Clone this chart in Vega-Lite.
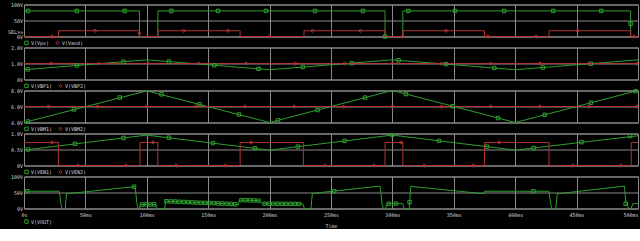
{
"$schema": "https://vega.github.io/schema/vega-lite/v6.json",
"background": "#000000",
"padding": {"left": 0, "top": 1.5, "right": 3, "bottom": 0},
"bounds": "flush",
"spacing": 11,
"config": {
  "view": {"stroke": "#8c8c8c", "strokeWidth": 1},
  "axis": {"labelFont": "DejaVu Sans Mono", "labelFontSize": 5, "labelColor": "#d4d4d4", "domain": false, "ticks": false, "gridWidth": 1, "labelOverlap": false, "titleFont": "DejaVu Sans Mono", "titleFontSize": 5, "titleColor": "#d4d4d4", "titleFontWeight": "normal"},
  "axisY": {"minExtent": 23, "maxExtent": 23, "labelPadding": 1.5},
  "legend": {"orient": "none", "direction": "horizontal", "labelFont": "DejaVu Sans Mono", "labelFontSize": 5, "labelColor": "#d4d4d4", "symbolSize": 12, "symbolStrokeWidth": 1, "labelOffset": 2, "columnPadding": 3, "padding": 0, "rowPadding": 0}
},
"datasets": {
  "p1": [
    {"t":0,"v":80,"s":"V(Vpv)"},{"t":94,"v":80,"s":"V(Vpv)"},{"t":94,"v":0,"s":"V(Vpv)"},{"t":109,"v":0,"s":"V(Vpv)"},{"t":109,"v":80,"s":"V(Vpv)"},{"t":294,"v":80,"s":"V(Vpv)"},{"t":294,"v":0,"s":"V(Vpv)"},{"t":308.5,"v":0,"s":"V(Vpv)"},{"t":308.5,"v":80,"s":"V(Vpv)"},{"t":494,"v":80,"s":"V(Vpv)"},{"t":494,"v":0,"s":"V(Vpv)"},{"t":500,"v":0,"s":"V(Vpv)"},
    {"t":0,"v":0,"s":"V(Vand)"},{"t":28,"v":0,"s":"V(Vand)"},{"t":28,"v":18,"s":"V(Vand)"},{"t":94,"v":18,"s":"V(Vand)"},{"t":94,"v":0,"s":"V(Vand)"},{"t":109,"v":0,"s":"V(Vand)"},{"t":109,"v":18,"s":"V(Vand)"},{"t":176,"v":18,"s":"V(Vand)"},{"t":176,"v":0,"s":"V(Vand)"},{"t":228,"v":0,"s":"V(Vand)"},{"t":228,"v":18,"s":"V(Vand)"},{"t":294,"v":18,"s":"V(Vand)"},{"t":294,"v":0,"s":"V(Vand)"},{"t":308.5,"v":0,"s":"V(Vand)"},{"t":308.5,"v":18,"s":"V(Vand)"},{"t":375,"v":18,"s":"V(Vand)"},{"t":375,"v":0,"s":"V(Vand)"},{"t":427.5,"v":0,"s":"V(Vand)"},{"t":427.5,"v":18,"s":"V(Vand)"},{"t":494,"v":18,"s":"V(Vand)"},{"t":494,"v":0,"s":"V(Vand)"},{"t":500,"v":0,"s":"V(Vand)"}
  ],
  "m1": [
    {"t":3.3,"v":80,"s":"V(Vpv)"},{"t":43,"v":80,"s":"V(Vpv)"},{"t":82,"v":80,"s":"V(Vpv)"},{"t":120,"v":80,"s":"V(Vpv)"},{"t":158,"v":80,"s":"V(Vpv)"},{"t":197,"v":80,"s":"V(Vpv)"},{"t":237,"v":80,"s":"V(Vpv)"},{"t":276,"v":80,"s":"V(Vpv)"},{"t":294,"v":0,"s":"V(Vpv)"},{"t":313,"v":80,"s":"V(Vpv)"},{"t":351,"v":80,"s":"V(Vpv)"},{"t":391,"v":80,"s":"V(Vpv)"},{"t":431,"v":80,"s":"V(Vpv)"},{"t":470,"v":80,"s":"V(Vpv)"},{"t":494,"v":40,"s":"V(Vpv)"},
    {"t":22.8,"v":0,"s":"V(Vand)"},{"t":57.8,"v":18,"s":"V(Vand)"},{"t":94,"v":10,"s":"V(Vand)"},{"t":130,"v":18,"s":"V(Vand)"},{"t":166,"v":18,"s":"V(Vand)"},{"t":200,"v":0,"s":"V(Vand)"},{"t":235,"v":18,"s":"V(Vand)"},{"t":274,"v":18,"s":"V(Vand)"},{"t":308.5,"v":0,"s":"V(Vand)"},{"t":343.6,"v":18,"s":"V(Vand)"},{"t":377.9,"v":0,"s":"V(Vand)"},{"t":417,"v":0,"s":"V(Vand)"},{"t":451,"v":18,"s":"V(Vand)"},{"t":496.7,"v":0,"s":"V(Vand)"}
  ],
  "p2": [
    {"t":0,"v":0.61,"s":"V(VBP1)"},{"t":100,"v":1.23,"s":"V(VBP1)"},{"t":200,"v":0.61,"s":"V(VBP1)"},{"t":300,"v":1.23,"s":"V(VBP1)"},{"t":400,"v":0.61,"s":"V(VBP1)"},{"t":500,"v":1.23,"s":"V(VBP1)"},
    {"t":0,"v":1.0,"s":"V(VBP2)"},{"t":500,"v":1.0,"s":"V(VBP2)"}
  ],
  "m2": [
    {"t":3,"v":0.63,"s":"V(VBP1)"},{"t":43,"v":0.88,"s":"V(VBP1)"},{"t":81,"v":1.11,"s":"V(VBP1)"},{"t":118,"v":1.12,"s":"V(VBP1)"},{"t":155,"v":0.89,"s":"V(VBP1)"},{"t":191,"v":0.67,"s":"V(VBP1)"},{"t":227,"v":0.78,"s":"V(VBP1)"},{"t":267,"v":1.02,"s":"V(VBP1)"},{"t":305,"v":1.2,"s":"V(VBP1)"},{"t":343.6,"v":0.96,"s":"V(VBP1)"},{"t":383,"v":0.72,"s":"V(VBP1)"},{"t":422.6,"v":0.75,"s":"V(VBP1)"},{"t":461.7,"v":0.99,"s":"V(VBP1)"},
    {"t":22,"v":1,"s":"V(VBP2)"},{"t":61,"v":1,"s":"V(VBP2)"},{"t":101,"v":1,"s":"V(VBP2)"},{"t":142,"v":1,"s":"V(VBP2)"},{"t":181,"v":1,"s":"V(VBP2)"},{"t":221,"v":1,"s":"V(VBP2)"},{"t":261,"v":1,"s":"V(VBP2)"},{"t":300,"v":1,"s":"V(VBP2)"},{"t":340,"v":1,"s":"V(VBP2)"},{"t":380,"v":1,"s":"V(VBP2)"},{"t":420,"v":1,"s":"V(VBP2)"},{"t":460,"v":1,"s":"V(VBP2)"},{"t":499,"v":1,"s":"V(VBP2)"}
  ],
  "p3": [
    {"t":0,"v":4.0,"s":"V(VBM1)"},{"t":100,"v":7.95,"s":"V(VBM1)"},{"t":200,"v":4.0,"s":"V(VBM1)"},{"t":300,"v":8.0,"s":"V(VBM1)"},{"t":400,"v":4.0,"s":"V(VBM1)"},{"t":500,"v":8.0,"s":"V(VBM1)"},
    {"t":0,"v":6.0,"s":"V(VBM2)"},{"t":500,"v":6.0,"s":"V(VBM2)"}
  ],
  "m3": [
    {"t":3.3,"v":4.13,"s":"V(VBM1)"},{"t":40.7,"v":5.63,"s":"V(VBM1)"},{"t":78,"v":7.12,"s":"V(VBM1)"},{"t":112,"v":7.52,"s":"V(VBM1)"},{"t":143,"v":6.28,"s":"V(VBM1)"},{"t":175,"v":5.0,"s":"V(VBM1)"},{"t":206.8,"v":4.27,"s":"V(VBM1)"},{"t":239,"v":5.56,"s":"V(VBM1)"},{"t":277.7,"v":7.11,"s":"V(VBM1)"},{"t":311,"v":7.56,"s":"V(VBM1)"},{"t":349,"v":6.04,"s":"V(VBM1)"},{"t":386,"v":4.56,"s":"V(VBM1)"},{"t":424,"v":4.96,"s":"V(VBM1)"},{"t":461.7,"v":6.47,"s":"V(VBM1)"},{"t":498,"v":7.92,"s":"V(VBM1)"},
    {"t":20,"v":6,"s":"V(VBM2)"},{"t":60,"v":6,"s":"V(VBM2)"},{"t":100,"v":6,"s":"V(VBM2)"},{"t":140,"v":6,"s":"V(VBM2)"},{"t":180,"v":6,"s":"V(VBM2)"},{"t":220,"v":6,"s":"V(VBM2)"},{"t":260,"v":6,"s":"V(VBM2)"},{"t":300,"v":6,"s":"V(VBM2)"},{"t":340,"v":6,"s":"V(VBM2)"},{"t":380,"v":6,"s":"V(VBM2)"},{"t":420,"v":6,"s":"V(VBM2)"},{"t":460,"v":6,"s":"V(VBM2)"},{"t":499,"v":6,"s":"V(VBM2)"}
  ],
  "p4": [
    {"t":0,"v":0.48,"s":"V(VEN1)"},{"t":100,"v":0.95,"s":"V(VEN1)"},{"t":200,"v":0.48,"s":"V(VEN1)"},{"t":300,"v":0.95,"s":"V(VEN1)"},{"t":400,"v":0.48,"s":"V(VEN1)"},{"t":500,"v":0.93,"s":"V(VEN1)"},
    {"t":0,"v":0.72,"s":"V(VEN2)"},{"t":28,"v":0.72,"s":"V(VEN2)"},{"t":28,"v":0,"s":"V(VEN2)"},{"t":94.5,"v":0,"s":"V(VEN2)"},{"t":94.5,"v":0.72,"s":"V(VEN2)"},{"t":109,"v":0.72,"s":"V(VEN2)"},{"t":109,"v":0,"s":"V(VEN2)"},{"t":176,"v":0,"s":"V(VEN2)"},{"t":176,"v":0.72,"s":"V(VEN2)"},{"t":227.5,"v":0.72,"s":"V(VEN2)"},{"t":227.5,"v":0,"s":"V(VEN2)"},{"t":294,"v":0,"s":"V(VEN2)"},{"t":294,"v":0.72,"s":"V(VEN2)"},{"t":308.5,"v":0.72,"s":"V(VEN2)"},{"t":308.5,"v":0,"s":"V(VEN2)"},{"t":375,"v":0,"s":"V(VEN2)"},{"t":375,"v":0.72,"s":"V(VEN2)"},{"t":427.5,"v":0.72,"s":"V(VEN2)"},{"t":427.5,"v":0,"s":"V(VEN2)"},{"t":494.5,"v":0,"s":"V(VEN2)"},{"t":494.5,"v":0.72,"s":"V(VEN2)"},{"t":500,"v":0.72,"s":"V(VEN2)"}
  ],
  "m4": [
    {"t":3.3,"v":0.5,"s":"V(VEN1)"},{"t":41.5,"v":0.68,"s":"V(VEN1)"},{"t":81,"v":0.86,"s":"V(VEN1)"},{"t":118,"v":0.87,"s":"V(VEN1)"},{"t":153.9,"v":0.7,"s":"V(VEN1)"},{"t":188,"v":0.54,"s":"V(VEN1)"},{"t":223,"v":0.59,"s":"V(VEN1)"},{"t":261,"v":0.77,"s":"V(VEN1)"},{"t":299.7,"v":0.95,"s":"V(VEN1)"},{"t":338,"v":0.77,"s":"V(VEN1)"},{"t":377,"v":0.59,"s":"V(VEN1)"},{"t":415,"v":0.55,"s":"V(VEN1)"},{"t":454,"v":0.73,"s":"V(VEN1)"},{"t":493.5,"v":0.92,"s":"V(VEN1)"},
    {"t":22.6,"v":0.72,"s":"V(VEN2)"},{"t":44,"v":0,"s":"V(VEN2)"},{"t":83,"v":0,"s":"V(VEN2)"},{"t":105,"v":0.72,"s":"V(VEN2)"},{"t":124,"v":0,"s":"V(VEN2)"},{"t":164,"v":0,"s":"V(VEN2)"},{"t":185,"v":0.72,"s":"V(VEN2)"},{"t":245,"v":0,"s":"V(VEN2)"},{"t":285,"v":0,"s":"V(VEN2)"},{"t":307,"v":0.72,"s":"V(VEN2)"},{"t":326,"v":0,"s":"V(VEN2)"},{"t":366,"v":0,"s":"V(VEN2)"},{"t":387,"v":0.72,"s":"V(VEN2)"},{"t":447,"v":0,"s":"V(VEN2)"},{"t":486,"v":0,"s":"V(VEN2)"}
  ],
  "p5": [
    {"t":0,"v":54,"s":"V(VOUT)"},{"t":28.5,"v":54,"s":"V(VOUT)"},{"t":29.3,"v":38,"s":"V(VOUT)"},{"t":30,"v":15,"s":"V(VOUT)"},{"t":30.8,"v":3,"s":"V(VOUT)"},{"t":31.5,"v":0,"s":"V(VOUT)"},{"t":33.6,"v":0,"s":"V(VOUT)"},{"t":34.6,"v":46,"s":"V(VOUT)"},{"t":90.4,"v":68.5,"s":"V(VOUT)"},{"t":91.2,"v":45,"s":"V(VOUT)"},{"t":92,"v":15,"s":"V(VOUT)"},{"t":92.8,"v":2,"s":"V(VOUT)"},{"t":93.5,"v":0,"s":"V(VOUT)"},{"t":94,"v":0,"s":"V(VOUT)"},{"t":95,"v":12.5,"s":"V(VOUT)"},{"t":98,"v":13,"s":"V(VOUT)"},{"t":101,"v":12.5,"s":"V(VOUT)"},{"t":104,"v":13,"s":"V(VOUT)"},{"t":107,"v":12.5,"s":"V(VOUT)"},{"t":107.6,"v":5,"s":"V(VOUT)"},{"t":108.3,"v":0,"s":"V(VOUT)"},{"t":114.6,"v":0,"s":"V(VOUT)"},{"t":115.2,"v":23,"s":"V(VOUT)"},{"t":119.5,"v":22,"s":"V(VOUT)"},{"t":123.8,"v":21.5,"s":"V(VOUT)"},{"t":130,"v":20.5,"s":"V(VOUT)"},{"t":137.4,"v":19,"s":"V(VOUT)"},{"t":144,"v":18,"s":"V(VOUT)"},{"t":150.9,"v":17,"s":"V(VOUT)"},{"t":158,"v":16,"s":"V(VOUT)"},{"t":164.5,"v":15,"s":"V(VOUT)"},{"t":170,"v":13.5,"s":"V(VOUT)"},{"t":174.5,"v":12,"s":"V(VOUT)"},{"t":175.3,"v":26,"s":"V(VOUT)"},{"t":180,"v":26,"s":"V(VOUT)"},{"t":185,"v":25.5,"s":"V(VOUT)"},{"t":191.6,"v":24.5,"s":"V(VOUT)"},{"t":194.3,"v":15,"s":"V(VOUT)"},{"t":200,"v":15,"s":"V(VOUT)"},{"t":210,"v":14.5,"s":"V(VOUT)"},{"t":220,"v":14.5,"s":"V(VOUT)"},{"t":227,"v":14,"s":"V(VOUT)"},{"t":227.8,"v":5,"s":"V(VOUT)"},{"t":228.6,"v":0,"s":"V(VOUT)"},{"t":233.7,"v":0,"s":"V(VOUT)"},{"t":234.8,"v":47,"s":"V(VOUT)"},{"t":290,"v":70,"s":"V(VOUT)"},{"t":290.8,"v":45,"s":"V(VOUT)"},{"t":291.6,"v":15,"s":"V(VOUT)"},{"t":292.4,"v":2,"s":"V(VOUT)"},{"t":293.2,"v":0,"s":"V(VOUT)"},{"t":294.3,"v":0,"s":"V(VOUT)"},{"t":296,"v":15,"s":"V(VOUT)"},{"t":308.4,"v":15,"s":"V(VOUT)"},{"t":309.4,"v":2,"s":"V(VOUT)"},{"t":310,"v":0,"s":"V(VOUT)"},{"t":313.7,"v":0,"s":"V(VOUT)"},{"t":315,"v":69,"s":"V(VOUT)"},{"t":374.8,"v":46,"s":"V(VOUT)"},{"t":375.2,"v":54,"s":"V(VOUT)"},{"t":427.3,"v":54,"s":"V(VOUT)"},{"t":428.1,"v":38,"s":"V(VOUT)"},{"t":428.8,"v":15,"s":"V(VOUT)"},{"t":429.6,"v":3,"s":"V(VOUT)"},{"t":430.3,"v":0,"s":"V(VOUT)"},{"t":433,"v":0,"s":"V(VOUT)"},{"t":434.3,"v":46,"s":"V(VOUT)"},{"t":489,"v":70,"s":"V(VOUT)"},{"t":489.6,"v":40,"s":"V(VOUT)"},{"t":490.2,"v":15,"s":"V(VOUT)"},{"t":491,"v":10,"s":"V(VOUT)"},{"t":492.7,"v":0,"s":"V(VOUT)"},{"t":494.3,"v":0,"s":"V(VOUT)"},{"t":495.9,"v":15,"s":"V(VOUT)"},{"t":500,"v":15,"s":"V(VOUT)"}
  ],
  "m5": [
    {"t":2.6,"v":54,"s":"V(VOUT)"},{"t":89.6,"v":68.2,"s":"V(VOUT)"},{"t":96,"v":12.5,"s":"V(VOUT)"},{"t":99.5,"v":13,"s":"V(VOUT)"},{"t":103,"v":12.5,"s":"V(VOUT)"},{"t":106,"v":13,"s":"V(VOUT)"},{"t":116,"v":22.8,"s":"V(VOUT)"},{"t":119.5,"v":22,"s":"V(VOUT)"},{"t":123,"v":21.6,"s":"V(VOUT)"},{"t":126.5,"v":21.1,"s":"V(VOUT)"},{"t":130,"v":20.5,"s":"V(VOUT)"},{"t":133.5,"v":19.8,"s":"V(VOUT)"},{"t":137,"v":19.1,"s":"V(VOUT)"},{"t":140.5,"v":18.6,"s":"V(VOUT)"},{"t":144,"v":18,"s":"V(VOUT)"},{"t":147.5,"v":17.5,"s":"V(VOUT)"},{"t":151,"v":17,"s":"V(VOUT)"},{"t":154.5,"v":16.5,"s":"V(VOUT)"},{"t":158,"v":16,"s":"V(VOUT)"},{"t":161.5,"v":15.5,"s":"V(VOUT)"},{"t":165,"v":14.9,"s":"V(VOUT)"},{"t":168.5,"v":14,"s":"V(VOUT)"},{"t":172,"v":13,"s":"V(VOUT)"},{"t":177,"v":26,"s":"V(VOUT)"},{"t":180.5,"v":26,"s":"V(VOUT)"},{"t":184,"v":25.6,"s":"V(VOUT)"},{"t":187.5,"v":25.2,"s":"V(VOUT)"},{"t":191,"v":24.6,"s":"V(VOUT)"},{"t":196,"v":15,"s":"V(VOUT)"},{"t":199.5,"v":15,"s":"V(VOUT)"},{"t":203,"v":15,"s":"V(VOUT)"},{"t":206.5,"v":14.8,"s":"V(VOUT)"},{"t":210,"v":14.5,"s":"V(VOUT)"},{"t":213.5,"v":14.5,"s":"V(VOUT)"},{"t":217,"v":14.5,"s":"V(VOUT)"},{"t":220.5,"v":14.4,"s":"V(VOUT)"},{"t":224,"v":14.2,"s":"V(VOUT)"},{"t":252.6,"v":54.2,"s":"V(VOUT)"},{"t":297,"v":15,"s":"V(VOUT)"},{"t":303,"v":15,"s":"V(VOUT)"},{"t":314,"v":20,"s":"V(VOUT)"},{"t":414.8,"v":54,"s":"V(VOUT)"},{"t":490,"v":15,"s":"V(VOUT)"}
  ]
},
"vconcat": [
  {
    "width": 614, "height": 32,
    "layer": [
      {"data": {"name": "p1"}, "mark": {"type": "line", "strokeWidth": 1},
       "encoding": {
         "x": {"field": "t", "type": "quantitative", "scale": {"domain": [0, 500], "nice": false}, "axis": {"labels": false, "title": null, "values": [0, 50, 100, 150, 200, 250, 300, 350, 400, 450, 500], "gridColor": "#8a8a8a"}},
         "y": {"field": "v", "type": "quantitative", "title": null, "scale": {"domain": [0, 100], "nice": false}, "axis": {"labelOverlap": false, "values": [0, 16, 50, 100], "labelExpr": "datum.value == 16 ? 'SEL>>' : datum.value + 'V'", "gridColor": "#8a8a8a", "gridOpacity": {"condition": {"test": "datum.value == 16", "value": 0}, "value": 1}}},
         "color": {"field": "s", "type": "nominal", "scale": {"domain": ["V(Vpv)", "V(Vand)"], "range": ["#2f9e2f", "#b03434"]}, "legend": {"title": null, "legendX": 0, "legendY": 35.5}},
         "order": {"value": null}
       }},
      {"data": {"name": "m1"}, "mark": {"type": "point", "filled": false, "strokeWidth": 1, "size": 12, "opacity": 1},
       "encoding": {
         "x": {"field": "t", "type": "quantitative", "axis": {"orient": "top", "labels": false, "title": null, "minExtent": 0, "maxExtent": 0, "values": [10,20,30,40,60,70,80,90,110,120,130,140,160,170,180,190,210,220,230,240,260,270,280,290,310,320,330,340,360,370,380,390,410,420,430,440,460,470,480,490], "gridDash": [1, 2], "gridColor": "#7a7a7a"}},
         "y": {"field": "v", "type": "quantitative", "axis": {"orient": "right", "labels": false, "title": null, "minExtent": 0, "maxExtent": 0, "values": [10, 20, 30, 40, 60, 70, 80, 90], "gridDash": [1, 2], "gridColor": "#7a7a7a"}},
         "color": {"field": "s", "type": "nominal", "legend": {"title": null, "legendX": 0, "legendY": 35.5}},
         "shape": {"field": "s", "type": "nominal", "scale": {"domain": ["V(Vpv)", "V(Vand)"], "range": ["square", "diamond"]}, "legend": {"title": null, "legendX": 0, "legendY": 35.5}}
       }}
    ],
    "resolve": {"axis": {"x": "independent", "y": "independent"}}
  },
  {
    "width": 614, "height": 32,
    "layer": [
      {"data": {"name": "p2"}, "mark": {"type": "line", "strokeWidth": 1},
       "encoding": {
         "x": {"field": "t", "type": "quantitative", "scale": {"domain": [0, 500], "nice": false}, "axis": {"labels": false, "title": null, "values": [0, 50, 100, 150, 200, 250, 300, 350, 400, 450, 500], "gridColor": "#8a8a8a"}},
         "y": {"field": "v", "type": "quantitative", "title": null, "scale": {"domain": [0, 2], "nice": false}, "axis": {"labelOverlap": false, "values": [0, 1, 2], "labelExpr": "datum.value == 0 ? '0V' : format(datum.value, '.1f') + 'V'", "gridColor": "#8a8a8a"}},
         "color": {"field": "s", "type": "nominal", "scale": {"domain": ["V(VBP1)", "V(VBP2)"], "range": ["#2f9e2f", "#b03434"]}, "legend": {"title": null, "legendX": 0, "legendY": 35.5}},
         "order": {"value": null}
       }},
      {"data": {"name": "m2"}, "mark": {"type": "point", "filled": false, "strokeWidth": 1, "size": 12, "opacity": 1},
       "encoding": {
         "x": {"field": "t", "type": "quantitative", "axis": {"orient": "top", "labels": false, "title": null, "minExtent": 0, "maxExtent": 0, "values": [10,20,30,40,60,70,80,90,110,120,130,140,160,170,180,190,210,220,230,240,260,270,280,290,310,320,330,340,360,370,380,390,410,420,430,440,460,470,480,490], "gridDash": [1, 2], "gridColor": "#7a7a7a"}},
         "y": {"field": "v", "type": "quantitative", "axis": {"orient": "right", "labels": false, "title": null, "minExtent": 0, "maxExtent": 0, "values": [0.2, 0.4, 0.6, 0.8, 1.2, 1.4, 1.6, 1.8], "gridDash": [1, 2], "gridColor": "#7a7a7a"}},
         "color": {"field": "s", "type": "nominal", "legend": {"title": null, "legendX": 0, "legendY": 35.5}},
         "shape": {"field": "s", "type": "nominal", "scale": {"domain": ["V(VBP1)", "V(VBP2)"], "range": ["square", "diamond"]}, "legend": {"title": null, "legendX": 0, "legendY": 35.5}}
       }}
    ],
    "resolve": {"axis": {"x": "independent", "y": "independent"}}
  },
  {
    "width": 614, "height": 32,
    "layer": [
      {"data": {"name": "p3"}, "mark": {"type": "line", "strokeWidth": 1},
       "encoding": {
         "x": {"field": "t", "type": "quantitative", "scale": {"domain": [0, 500], "nice": false}, "axis": {"labels": false, "title": null, "values": [0, 50, 100, 150, 200, 250, 300, 350, 400, 450, 500], "gridColor": "#8a8a8a"}},
         "y": {"field": "v", "type": "quantitative", "title": null, "scale": {"domain": [4, 8], "nice": false, "zero": false}, "axis": {"labelOverlap": false, "values": [4, 6, 8], "labelExpr": "format(datum.value, '.1f') + 'V'", "gridColor": "#8a8a8a"}},
         "color": {"field": "s", "type": "nominal", "scale": {"domain": ["V(VBM1)", "V(VBM2)"], "range": ["#2f9e2f", "#b03434"]}, "legend": {"title": null, "legendX": 0, "legendY": 35.5}},
         "order": {"value": null}
       }},
      {"data": {"name": "m3"}, "mark": {"type": "point", "filled": false, "strokeWidth": 1, "size": 12, "opacity": 1},
       "encoding": {
         "x": {"field": "t", "type": "quantitative", "axis": {"orient": "top", "labels": false, "title": null, "minExtent": 0, "maxExtent": 0, "values": [10,20,30,40,60,70,80,90,110,120,130,140,160,170,180,190,210,220,230,240,260,270,280,290,310,320,330,340,360,370,380,390,410,420,430,440,460,470,480,490], "gridDash": [1, 2], "gridColor": "#7a7a7a"}},
         "y": {"field": "v", "type": "quantitative", "axis": {"orient": "right", "labels": false, "title": null, "minExtent": 0, "maxExtent": 0, "values": [4.4, 4.8, 5.2, 5.6, 6.4, 6.8, 7.2, 7.6], "gridDash": [1, 2], "gridColor": "#7a7a7a"}},
         "color": {"field": "s", "type": "nominal", "legend": {"title": null, "legendX": 0, "legendY": 35.5}},
         "shape": {"field": "s", "type": "nominal", "scale": {"domain": ["V(VBM1)", "V(VBM2)"], "range": ["square", "diamond"]}, "legend": {"title": null, "legendX": 0, "legendY": 35.5}}
       }}
    ],
    "resolve": {"axis": {"x": "independent", "y": "independent"}}
  },
  {
    "width": 614, "height": 32,
    "layer": [
      {"data": {"name": "p4"}, "mark": {"type": "line", "strokeWidth": 1},
       "encoding": {
         "x": {"field": "t", "type": "quantitative", "scale": {"domain": [0, 500], "nice": false}, "axis": {"labels": false, "title": null, "values": [0, 50, 100, 150, 200, 250, 300, 350, 400, 450, 500], "gridColor": "#8a8a8a"}},
         "y": {"field": "v", "type": "quantitative", "title": null, "scale": {"domain": [0, 1], "nice": false}, "axis": {"labelOverlap": false, "values": [0, 0.5, 1], "labelExpr": "datum.value == 0 ? '0V' : format(datum.value, '.1f') + 'V'", "gridColor": "#8a8a8a"}},
         "color": {"field": "s", "type": "nominal", "scale": {"domain": ["V(VEN1)", "V(VEN2)"], "range": ["#2f9e2f", "#b03434"]}, "legend": {"title": null, "legendX": 0, "legendY": 35.5}},
         "order": {"value": null}
       }},
      {"data": {"name": "m4"}, "mark": {"type": "point", "filled": false, "strokeWidth": 1, "size": 12, "opacity": 1},
       "encoding": {
         "x": {"field": "t", "type": "quantitative", "axis": {"orient": "top", "labels": false, "title": null, "minExtent": 0, "maxExtent": 0, "values": [10,20,30,40,60,70,80,90,110,120,130,140,160,170,180,190,210,220,230,240,260,270,280,290,310,320,330,340,360,370,380,390,410,420,430,440,460,470,480,490], "gridDash": [1, 2], "gridColor": "#7a7a7a"}},
         "y": {"field": "v", "type": "quantitative", "axis": {"orient": "right", "labels": false, "title": null, "minExtent": 0, "maxExtent": 0, "values": [0.1, 0.2, 0.3, 0.4, 0.6, 0.7, 0.8, 0.9], "gridDash": [1, 2], "gridColor": "#7a7a7a"}},
         "color": {"field": "s", "type": "nominal", "legend": {"title": null, "legendX": 0, "legendY": 35.5}},
         "shape": {"field": "s", "type": "nominal", "scale": {"domain": ["V(VEN1)", "V(VEN2)"], "range": ["square", "diamond"]}, "legend": {"title": null, "legendX": 0, "legendY": 35.5}}
       }}
    ],
    "resolve": {"axis": {"x": "independent", "y": "independent"}}
  },
  {
    "width": 614, "height": 32,
    "layer": [
      {"data": {"name": "p5"}, "mark": {"type": "line", "strokeWidth": 1},
       "encoding": {
         "x": {"field": "t", "type": "quantitative", "scale": {"domain": [0, 500], "nice": false}, "axis": {"labelOverlap": false, "labelFlush": false, "title": "Time", "titlePadding": 5.5, "labelPadding": 4, "values": [0, 50, 100, 150, 200, 250, 300, 350, 400, 450, 500], "labelExpr": "datum.value == 0 ? '0s' : datum.value + 'ms'", "labelAlign": {"condition": {"test": "datum.value == 500", "value": "right"}, "value": "center"}, "gridColor": "#8a8a8a"}},
         "y": {"field": "v", "type": "quantitative", "title": null, "scale": {"domain": [0, 100], "nice": false}, "axis": {"labelOverlap": false, "values": [0, 50, 100], "labelExpr": "datum.value + 'V'", "gridColor": "#8a8a8a"}},
         "color": {"field": "s", "type": "nominal", "scale": {"domain": ["V(VOUT)"], "range": ["#2f9e2f"]}, "legend": {"title": null, "legendX": 0, "legendY": 42.5}},
         "order": {"value": null}
       }},
      {"data": {"name": "m5"}, "mark": {"type": "point", "filled": false, "strokeWidth": 1, "size": 12, "opacity": 1},
       "encoding": {
         "x": {"field": "t", "type": "quantitative", "axis": {"orient": "top", "labels": false, "title": null, "minExtent": 0, "maxExtent": 0, "values": [10,20,30,40,60,70,80,90,110,120,130,140,160,170,180,190,210,220,230,240,260,270,280,290,310,320,330,340,360,370,380,390,410,420,430,440,460,470,480,490], "gridDash": [1, 2], "gridColor": "#7a7a7a"}},
         "y": {"field": "v", "type": "quantitative", "axis": {"orient": "right", "labels": false, "title": null, "minExtent": 0, "maxExtent": 0, "values": [10, 20, 30, 40, 60, 70, 80, 90], "gridDash": [1, 2], "gridColor": "#7a7a7a"}},
         "color": {"field": "s", "type": "nominal", "legend": {"title": null, "legendX": 0, "legendY": 42.5}},
         "shape": {"field": "s", "type": "nominal", "scale": {"domain": ["V(VOUT)"], "range": ["square"]}, "legend": {"title": null, "legendX": 0, "legendY": 42.5}}
       }}
    ],
    "resolve": {"axis": {"x": "independent", "y": "independent"}}
  }
],
"resolve": {"scale": {"color": "independent", "shape": "independent", "y": "independent"}}
}
